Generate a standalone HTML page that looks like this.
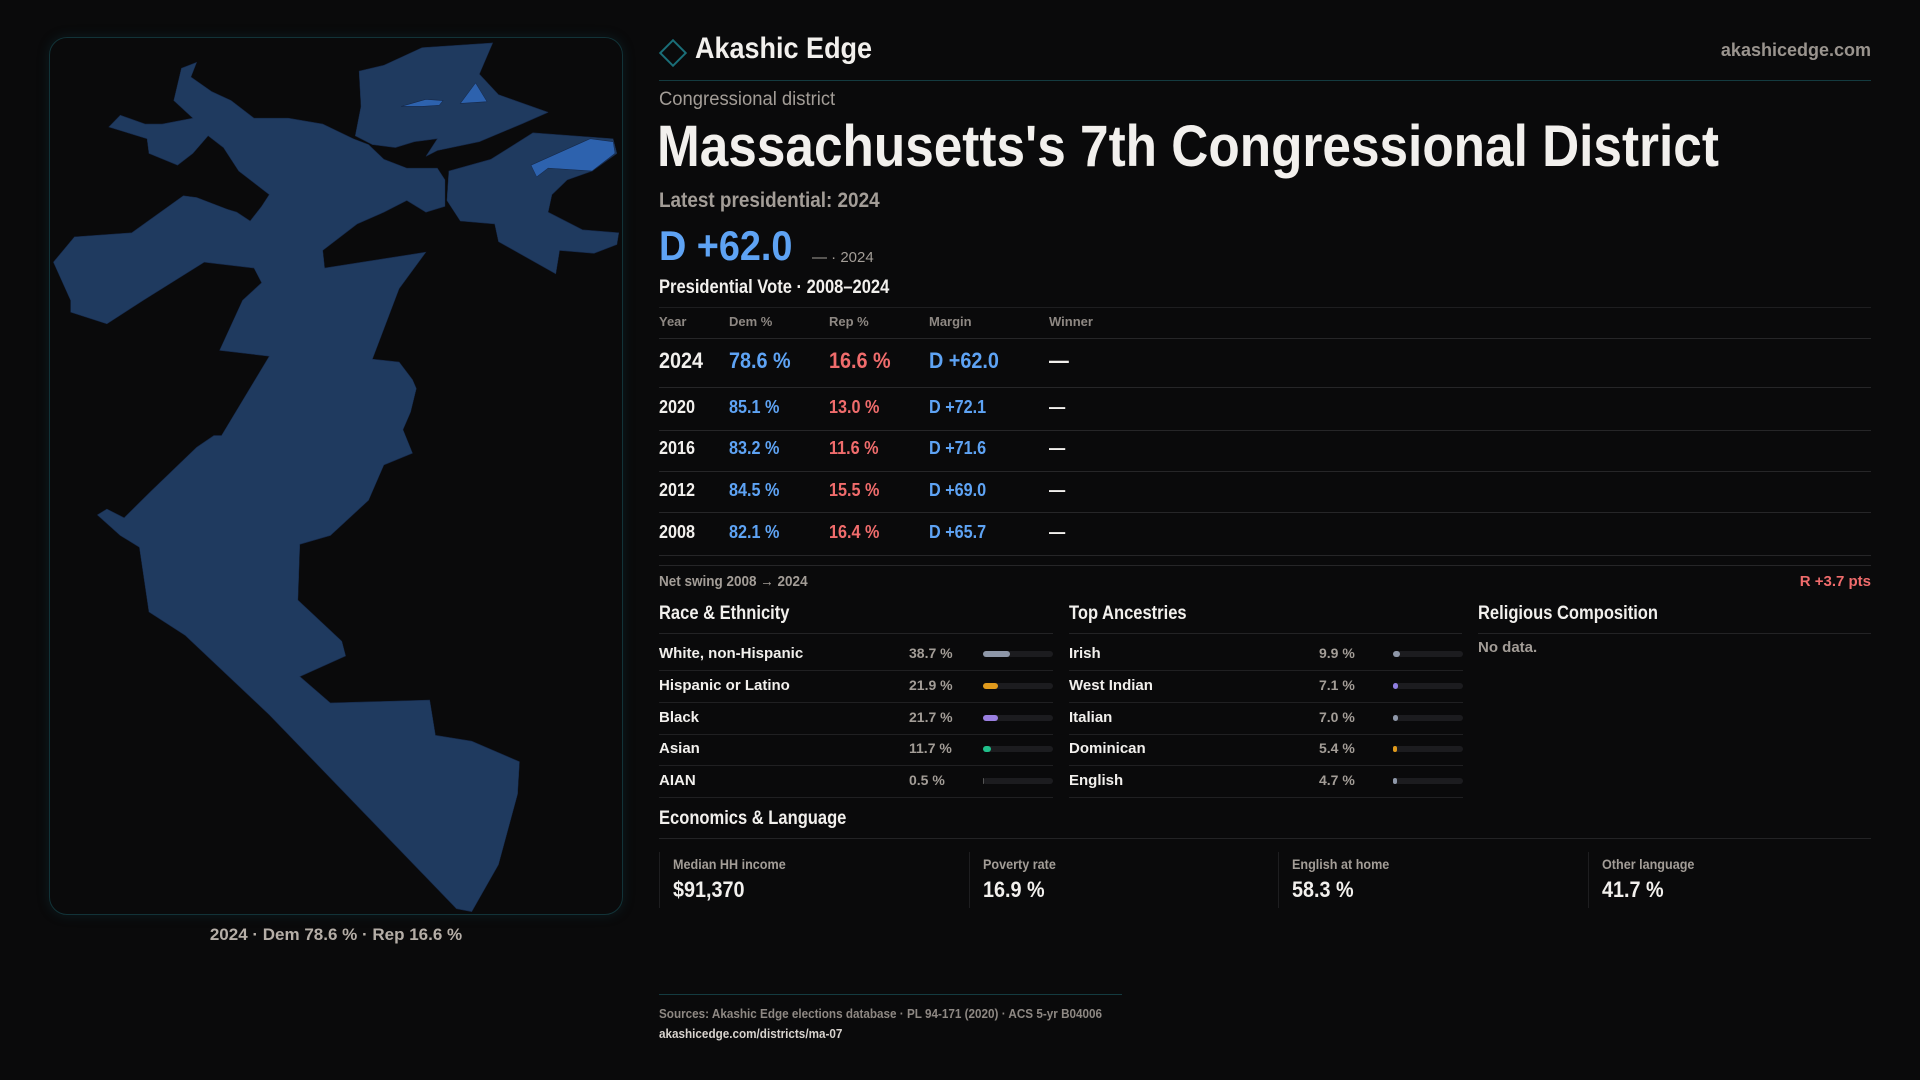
<!DOCTYPE html>
<html><head><meta charset="utf-8">
<style>
*{margin:0;padding:0;box-sizing:border-box}
body{width:1920px;height:1080px;background:#0a0a0b;font-family:"Liberation Sans",sans-serif;color:#f2f0ed;position:relative;overflow:hidden}
.a{position:absolute;white-space:nowrap}
.n{display:inline-block;transform-origin:left center}
.gray{color:#a39d97}
.blue{color:#5ea3f4}
.red{color:#f06c6c}
.hl{position:absolute;height:1px;background:#232325}
</style></head><body>
<div class="a" style="left:49px;top:37px;width:574px;height:878px;border:1px solid #123338;border-radius:18px;box-shadow:0 0 12px rgba(20,80,90,0.25)"></div>
<svg class="a" style="left:0;top:0" width="1920" height="1080" viewBox="0 0 1568 882">
<g transform="translate(32.7,24.5) scale(0.312,0.48)" fill="#1f3a5f" stroke="#16294a" stroke-width="1" vector-effect="non-scaling-stroke">
<polygon points="35,395 90,352 240,345 375,282 410,285 490,305 515,310 550,325 580,300 600,280 520,240 480,200 440,180 400,210 360,230 285,210 280,185 180,165 210,145 275,160 320,160 400,150 350,120 370,65 410,55 395,80 450,105 500,120 560,150 650,150 740,160 820,185 860,195 900,220 960,235 1040,235 1060,255 1060,300 1010,310 960,290 900,310 830,330 740,375 745,405 1010,378 940,440 870,560 940,565 975,595 985,610 970,650 950,680 975,720 900,740 860,800 760,860 680,875 675,970 790,1040 800,1065 680,1100 760,1145 1020,1140 1035,1200 1130,1210 1255,1245 1250,1300 1200,1420 1130,1500 1090,1495 600,1165 380,1030 285,990 260,880 210,860 150,825 175,815 220,830 290,785 410,710 455,690 475,690 600,555 470,545 530,460 580,430 560,405 430,395 270,460 175,500 80,480 80,460"/>
<polygon points="825,180 840,130 835,70 900,60 1000,30 1185,22 1150,75 1200,110 1330,140 1260,160 1150,190 1040,205 1010,215 1040,185 980,190 930,200 870,195"/>
<polygon points="1070,240 1180,220 1290,175 1500,185 1510,210 1445,240 1380,255 1340,280 1330,310 1420,340 1515,345 1510,365 1450,380 1360,375 1350,415 1200,360 1190,330 1100,325 1065,290"/>
<polygon fill="#2d62ae" points="945,130 1010,118 1055,120 1045,128 1000,130"/>
<polygon fill="#2d62ae" points="1100,125 1140,90 1170,122"/>
<polygon fill="#2d62ae" points="1285,230 1440,185 1500,190 1505,210 1445,240 1330,235 1300,250"/>
</g></svg>
<div class="a gray" style="left:49px;width:574px;text-align:center;top:925px;font-size:17px;font-weight:bold;color:#b5aea7">2024 · Dem 78.6 % · Rep 16.6 %</div>

<div class="a" style="left:663px;top:43px;width:20px;height:20px;border:2px solid #1a6e78;transform:rotate(45deg)"></div>
<div class="a" style="left:695px;top:32px;font-size:30px;font-weight:600"><span class="n" style="transform:scaleX(0.9)">Akashic Edge</span></div>
<div class="a gray" style="right:49px;top:40px;font-size:18px;font-weight:bold;color:#9a948e">akashicedge.com</div>
<div class="hl" style="left:659px;width:1212px;top:80px;background:#143b40"></div>

<div class="a gray" style="left:659px;top:89px;font-size:19px"><span class="n" style="transform:scaleX(0.97)">Congressional district</span></div>
<div class="a" style="left:657px;top:113px;font-size:58px;font-weight:bold"><span class="n" style="transform:scaleX(0.885)">Massachusetts's 7th Congressional District</span></div>
<div class="a gray" style="left:659px;top:189px;font-size:21px;font-weight:bold"><span class="n" style="transform:scaleX(0.9)">Latest presidential: 2024</span></div>
<div class="a blue" style="left:659px;top:222px;font-size:42px;font-weight:bold"><span class="n" style="transform:scaleX(0.9)">D +62.0</span></div>
<div class="a gray" style="left:812px;top:249px;font-size:15px">— · 2024</div>
<div class="a" style="left:659px;top:277px;font-size:19px;font-weight:bold"><span class="n" style="transform:scaleX(0.87)">Presidential Vote · 2008–2024</span></div>

<div id="tbl"></div>

<div class="a gray" style="left:659px;top:573px;font-size:15px;font-weight:bold"><span class="n" style="transform:scaleX(0.9)">Net swing 2008 → 2024</span></div>
<div class="a red" style="right:49px;top:573px;font-size:15px;font-weight:bold">R +3.7 pts</div>

<div class="a" style="left:659px;top:603px;font-size:19px;font-weight:bold"><span class="n" style="transform:scaleX(0.87)">Race &amp; Ethnicity</span></div>
<div class="hl" style="left:659px;width:394px;top:633px"></div>
<div class="a" style="left:1069px;top:603px;font-size:19px;font-weight:bold"><span class="n" style="transform:scaleX(0.87)">Top Ancestries</span></div>
<div class="hl" style="left:1069px;width:393px;top:633px"></div>
<div class="a" style="left:1478px;top:603px;font-size:19px;font-weight:bold"><span class="n" style="transform:scaleX(0.87)">Religious Composition</span></div>
<div class="hl" style="left:1478px;width:393px;top:633px"></div>
<div class="a gray" style="left:1478px;top:639px;font-size:15px;font-weight:bold">No data.</div>
<div id="demo"></div>

<div class="a" style="left:659px;top:808px;font-size:19px;font-weight:bold"><span class="n" style="transform:scaleX(0.87)">Economics &amp; Language</span></div>
<div class="hl" style="left:659px;width:1212px;top:838px"></div>
<div id="econ"></div>

<div class="hl" style="left:659px;width:463px;top:994px;background:#143b40"></div>
<div class="a gray" style="left:659px;top:1006px;font-size:13px;font-weight:bold;color:#8e8883"><span class="n" style="transform:scaleX(0.9)">Sources: Akashic Edge elections database · PL 94-171 (2020) · ACS 5-yr B04006</span></div>
<div class="a" style="left:659px;top:1026px;font-size:13px;font-weight:bold;color:#d8d3ce"><span class="n" style="transform:scaleX(0.9)">akashicedge.com/districts/ma-07</span></div>

<script>
const years=['2024','2020','2016','2012','2008'];
const demPct=['78.6 %','85.1 %','83.2 %','84.5 %','82.1 %'];
const repPct=['16.6 %','13.0 %','11.6 %','15.5 %','16.4 %'];
const margins=['D +62.0','D +72.1','D +71.6','D +69.0','D +65.7'];
const raceLabels=['White, non-Hispanic','Hispanic or Latino','Black','Asian','AIAN'];
const raceVals=[38.7,21.9,21.7,11.7,0.5];
const raceColors=['#8e97a8','#e09a1c','#9a7fe0','#20bf8a','#555'];
const ancLabels=['Irish','West Indian','Italian','Dominican','English'];
const ancVals=[9.9,7.1,7.0,5.4,4.7];
const ancColors=['#8e97a8','#8f7ee0','#8e97a8','#e09a1c','#8e97a8'];
const econLabels=['Median HH income','Poverty rate','English at home','Other language'];
const econVals=['$91,370','16.9 %','58.3 %','41.7 %'];

function mk(parent,css,html){const d=document.createElement('div');d.className='a';d.style.cssText=css;if(html!==undefined)d.innerHTML=html;parent.appendChild(d);return d;}
const B=document.body;
const hx=[659,729,829,929,1049];
const hdr=['Year','Dem %','Rep %','Margin','Winner'];
const tl=mk(B,'left:659px;width:1212px;top:307px;height:1px;background:#1e1e20');


hdr.forEach((h,i)=>{const d=mk(B,`left:${hx[i]}px;top:314px;font-size:13px;font-weight:bold;color:#8e8883`,h);

});
const rowY=[361,408,449,491,533];
const lineY=[338,387,430,471,512,555];
lineY.forEach(y=>{const l=mk(B,`left:659px;width:1212px;top:${y}px;height:1px;background:#262628`);

});
const bl=mk(B,'left:659px;width:1212px;top:565px;height:1px;background:#262628');


years.forEach((yr,i)=>{const fs=i==0?22:18;const cells=[[yr,'#f2f0ed'],[demPct[i],'#5ea3f4'],[repPct[i],'#f06c6c'],[margins[i],'#5ea3f4'],['—','#f2f0ed']];
cells.forEach((c,j)=>{const d=mk(B,`left:${hx[j]}px;top:${rowY[i]-fs*0.6}px;font-size:${fs}px;font-weight:bold;color:${c[1]}`,`<span class="n" style="transform:scaleX(0.9)">${c[0]}</span>`);

});});
const dy=[654,686,718,749,781];
function demo(lx,vx,bx,labels,vals,cols,key){labels.forEach((lb,i)=>{
const l=mk(B,`left:${lx}px;top:${dy[i]-9}px;font-size:15px;font-weight:bold`,lb);


const v=mk(B,`left:${vx}px;top:${dy[i]-9}px;font-size:14px;font-weight:bold;color:#a39d97`,vals[i].toFixed(1)+' %');


const t=mk(B,`left:${bx}px;top:${dy[i]-3}px;width:70px;height:6px;border-radius:3px;background:#1c1c1f`);


const f=document.createElement('div');f.style.cssText=`height:6px;border-radius:3px;background:${cols[i]};width:${Math.max(vals[i]/100*70,vals[i]>1?4:0)}px`;t.appendChild(f);


const s=mk(B,`left:${lx}px;width:394px;top:${dy[i]+16}px;height:1px;background:#202022`);


});}
demo(659,909,983,raceLabels,raceVals,raceColors,'race');
demo(1069,1319,1393,ancLabels,ancVals,ancColors,'ancestry');
const ex=[659,969,1278,1588];
econLabels.forEach((lb,i)=>{
const b=mk(B,`left:${ex[i]}px;top:852px;width:1px;height:56px;background:#1e1e20`);


const l=mk(B,`left:${ex[i]+14}px;top:856px;font-size:14px;font-weight:bold;color:#a39d97`,`<span class="n" style="transform:scaleX(0.9)">${lb}</span>`);


const v=mk(B,`left:${ex[i]+14}px;top:877px;font-size:22px;font-weight:bold`,`<span class="n" style="transform:scaleX(0.9)">${econVals[i]}</span>`);

});
</script>
</body></html>
